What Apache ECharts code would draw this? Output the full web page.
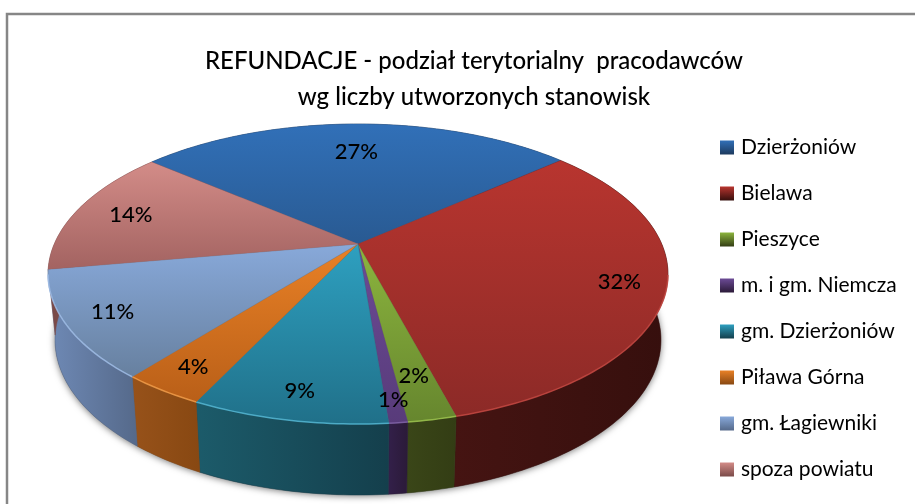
<!DOCTYPE html>
<html><head><meta charset="utf-8">
<style>html,body{margin:0;padding:0;background:#fff}#c{width:915px;height:504px}</style>
<script src="https://cdn.jsdelivr.net/npm/echarts@6/dist/echarts.min.js"></script>
</head><body><div id="c"></div>
<script>
const categories = ['Dzierżoniów','Bielawa','Pieszyce','m. i gm. Niemcza','gm. Dzierżoniów','Piława Górna','gm. Łagiewniki','spoza powiatu'];
const shares = [27.49,32.2,2.1,0.8,8.5,3.6,11.49,13.82];
const percentLabels = ['27%','32%','2%','1%','9%','4%','11%','14%'];

const labelRadius = [0.73,0.855,0.79,0.896,0.863,0.865,0.856,0.807];
const topLight = ['#3170b8','#b8352f','#8cb53e','#6c4b96','#2ea0c0','#e98126','#88a9da','#d38c88'];
const topDark  = ['#295a92','#8c2a27','#66862e','#583b7a','#207089','#b95f18','#67809f','#a36361'];
const wallLeft  = ['#1d3a5e','#451412','#3a4618','#33204a','#1c5b6a','#97521a','#6f8ab6','#7a4a48'];
const wallRight = ['#1d3a5e','#360f0d','#333d14','#2b1a38','#143f4c','#884812','#55698a','#7a4a48'];
const rimColor  = ['#4f8ad0','#c84a44','#a0c850','#8468ac','#58bcd8','#f5a04c','#a4c2ec','#e0a09c'];

const START = -50, K = 0.2, CX = 358, CY = 244, AX = 303.7, AY = 144, ELLCY = 274, ERX = 310, ERY = 150;
const BRX = 303, BRY = 155, BCY = 340, LOW = 1;
const total = shares.reduce((a, b) => a + b, 0);
const bounds = [START];
shares.forEach(v => bounds.push(bounds[bounds.length - 1] + v / total * 360));

function proj(deg, r) {
  const a = deg * Math.PI / 180, u = r * Math.sin(a), v = -r * Math.cos(a), w = 1 - K * v;
  return [CX + AX * u / w, CY + AY * v / w];
}
function lower(p) {
  return [CX + BRX * (p[0] - CX) / ERX, BCY + BRY * (p[1] - ELLCY) / ERY];
}
function arc(a, b) {
  const pts = [], n = Math.max(2, Math.ceil(Math.abs(b - a)));
  for (let i = 0; i <= n; i++) pts.push(proj(a + (b - a) * i / n, 1));
  return pts;
}
const grad = (c1, c2, vertical) => new echarts.graphic.LinearGradient(0, 0, vertical ? 0 : 1, vertical ? 1 : 0, [{offset: 0, color: c1}, {offset: 1, color: c2}]);

function wallSeries(i) {
  return {
    type: 'custom', name: categories[i], coordinateSystem: 'none', z: 2, silent: true, animation: false,
    data: [shares[i]],
    renderItem() {
      const top = arc(bounds[i], bounds[i + 1]);
      return {type: 'polygon', shape: {points: top.concat(top.map(lower).reverse())},
        style: {fill: grad(wallLeft[i], wallRight[i], false), stroke: wallRight[i], lineWidth: 0.5}};
    }
  };
}
function topSeries(i) {
  return {
    type: 'custom', name: categories[i], coordinateSystem: 'none', z: 3, silent: true, animation: false,
    data: [shares[i]],
    renderItem() {
      const rim = arc(bounds[i], bounds[i + 1]);
      const front = rim.filter(p => p[1] >= ELLCY);
      return {type: 'group', children: [
        {type: 'polygon', shape: {points: [proj(0, 0)].concat(rim)},
         style: {fill: grad(topLight[i], topDark[i], true), stroke: topDark[i], lineWidth: 0.3}},
        {type: 'polyline', shape: {points: front}, style: {fill: 'none', stroke: rimColor[i], lineWidth: 1.5, opacity: 0.8}}
      ]};
    }
  };
}
const shadowSeries = {
  type: 'custom', name: 'shadow', coordinateSystem: 'none', z: 1, silent: true, animation: false,
  data: [1],
  renderItem() {
    return {type: 'polygon', shape: {points: arc(0, 360).map(lower)},
      style: {fill: '#777', shadowBlur: 7, shadowColor: 'rgba(0,0,0,0.55)', shadowOffsetX: 0, shadowOffsetY: 1}};
  }
};
const labelSeries = {
  type: 'custom', name: 'labels', coordinateSystem: 'none', z: 4, silent: true, animation: false,
  data: shares,
  renderItem(p) {
    const i = p.dataIndex, pt = proj((bounds[i] + bounds[i + 1]) / 2, labelRadius[i]);
    return {type: 'text', style: {text: percentLabels[i], x: pt[0], y: pt[1], align: 'center', verticalAlign: 'middle',
      fill: '#000', font: '500 22px Lato'}};
  }
};

const chart = echarts.init(document.getElementById('c'), null, {renderer: 'canvas'});
chart.setOption({
  backgroundColor: '#fff',
  animation: false,
  title: {
    text: 'REFUNDACJE - podział terytorialny  pracodawców\nwg liczby utworzonych stanowisk',
    left: 469, top: 38, textAlign: 'center',
    textStyle: {fontFamily: 'Lato', fontWeight: 500, fontSize: 24, lineHeight: 36, color: '#000'}
  },
  legend: {
    orient: 'vertical', left: 715, top: 132, itemWidth: 14, itemHeight: 14, itemGap: 25,
    selectedMode: false,
    textStyle: {fontFamily: 'Lato', fontSize: 21, color: '#000', padding: [0, 0, 0, 2], lineHeight: 20},
    data: categories.map((name, i) => ({name, icon: 'rect', itemStyle: {color: grad(topLight[i], wallRight[i], true)}}))
  },
  graphic: [{type: 'polyline', silent: true, shape: {points: [[7, 504], [7, 14], [915, 14]]},
    style: {fill: 'none', stroke: '#868686', lineWidth: 2.5}}],
  series: [shadowSeries].concat(categories.map((_, i) => wallSeries(i)), categories.map((_, i) => topSeries(i)), [labelSeries])
});
</script></body></html>
